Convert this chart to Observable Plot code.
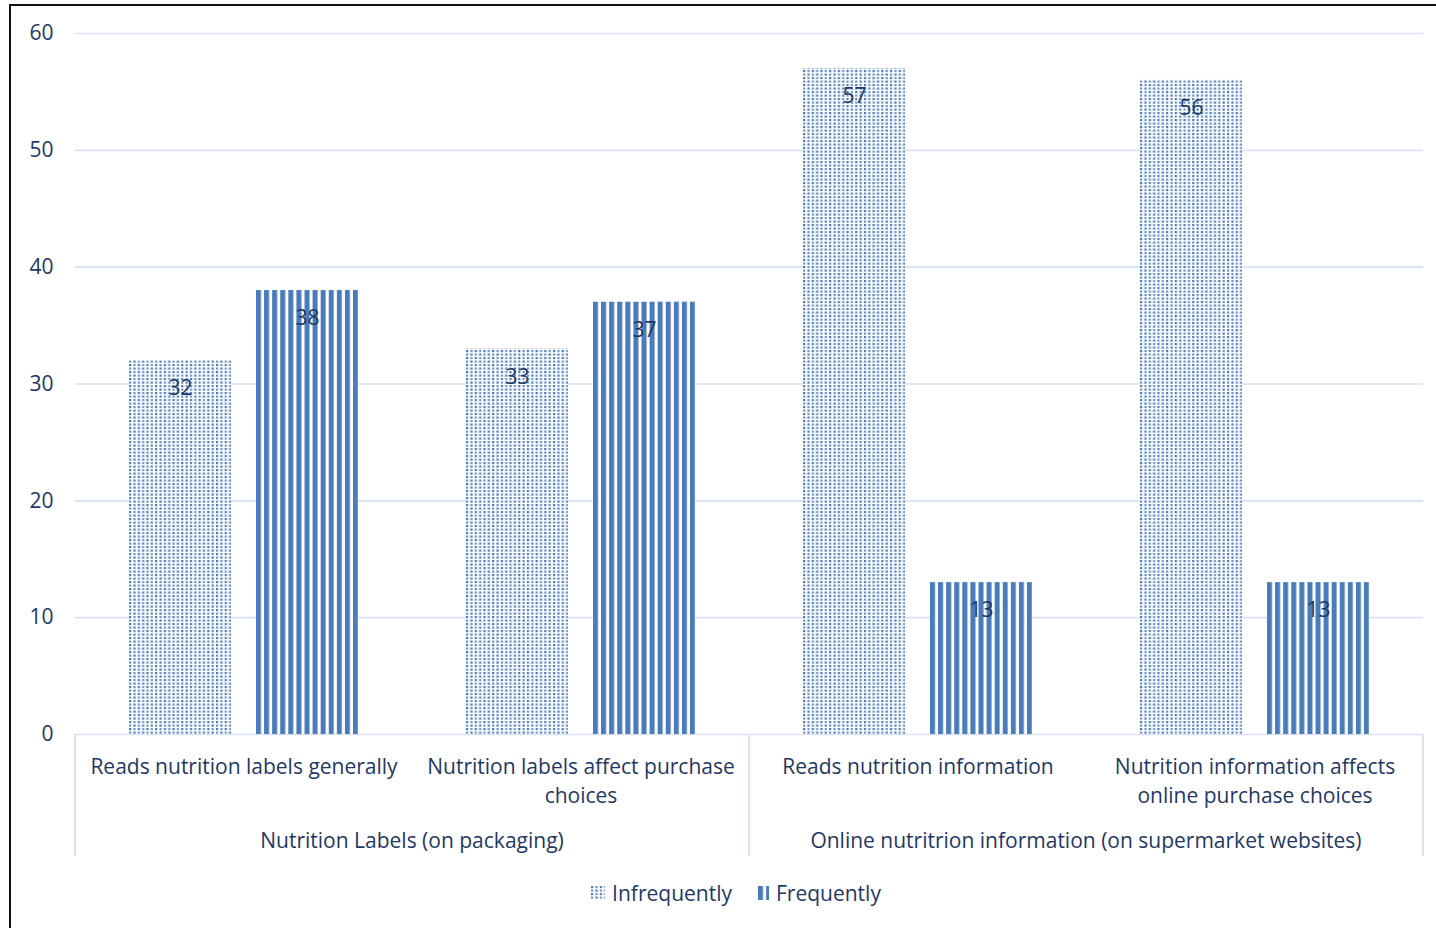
<!DOCTYPE html>
<html>
<head>
<meta charset="utf-8">
<script src="https://cdn.jsdelivr.net/npm/d3@7"></script>
<script src="https://cdn.jsdelivr.net/npm/@observablehq/plot@0.6"></script>
<style>
  html, body { margin: 0; padding: 0; background: #fff; }
  body { width: 1436px; height: 928px; overflow: hidden; position: relative; font-family: "Open Sans", "Noto Sans", sans-serif; }
  #frame { position: absolute; left: 9px; top: 4px; width: 1440px; height: 940px; border-left: 2px solid #111; border-top: 2px solid #111; box-sizing: border-box; }
  #chart { position: absolute; left: 0; top: 0; }
  #legend { position: absolute; left: 0; top: 880px; width: 1436px; height: 26px; padding-left: 36px; box-sizing: border-box;
            display: flex; justify-content: center; align-items: center; gap: 26px; font-size: 21px; color: #1f3864; }
  #legend .item { display: flex; align-items: center; gap: 7px; }
  #legend svg { display: block; }
</style>
</head>
<body>
<div id="frame"></div>
<div id="chart"></div>
<div id="legend"></div>
<script>
// Survey results: how often shoppers use nutrition information
const groups = [
  "Nutrition Labels (on packaging)",
  "Online nutritrion information (on supermarket websites)"
];
const categories = [
  "Reads nutrition labels generally",
  "Nutrition labels affect purchase choices",
  "Reads nutrition information",
  "Nutrition information affects online purchase choices"
];
const categoryGroup = [0, 0, 1, 1];
const tickLabels = [
  "Reads nutrition labels generally",
  "Nutrition labels affect purchase\nchoices",
  "Reads nutrition information",
  "Nutrition information affects\nonline purchase choices"
];
const series = ["Infrequently", "Frequently"];
const infrequently = [32, 33, 57, 56];
const frequently = [38, 37, 13, 13];
const yTicks = [0, 10, 20, 30, 40, 50, 60];

const textColor = "#1f3864";
const barBlue = "#4a7bbb";
const barBlueLight = "#6d95c9";
const gridColor = "#d9e2f3";
const font = "'Open Sans', 'Noto Sans', sans-serif";

const rows = categories.flatMap((category, i) => [
  {category, series: "Infrequently", value: infrequently[i]},
  {category, series: "Frequently", value: frequently[i]}
]);

const chart = Plot.plot({
  width: 1436,
  height: 870,
  marginLeft: 73,
  marginRight: 12,
  marginTop: 33,
  marginBottom: 136,
  style: {fontFamily: font, fontSize: "21px", color: textColor, background: "transparent"},
  fx: {domain: categories, padding: 0, label: null},
  x: {domain: series, paddingInner: 0.195, paddingOuter: 0.417, axis: null},
  y: {domain: [0, 60], axis: null},
  color: {domain: series, range: ["url(#dots)", "url(#stripes)"]},
  marks: [
    Plot.gridY(yTicks, {stroke: gridColor, strokeOpacity: 1, strokeWidth: 1.6}),
    Plot.axisY(yTicks, {tickSize: 0, tickPadding: 22, fontSize: 21, fill: textColor, label: null}),
    Plot.barY(rows, {fx: "category", x: "series", y: "value", fill: "series"}),
    Plot.text(rows, {fx: "category", x: "series", y: "value", text: d => String(d.value), dy: 28, fill: textColor, fontSize: 21}),
    Plot.axisFx({
      anchor: "bottom", tickSize: 0, tickPadding: 19, label: null,
      tickFormat: c => tickLabels[categories.indexOf(c)],
      lineHeight: 1.38, fontSize: 21, fill: textColor
    })
  ]
});

// Fill patterns for the two series, aligned to each bar's left edge
function addPatterns(defs, prefix, dotsX, stripesX, bw) {
  const dotStep = (bw - 2) / 23;
  const dots = defs.append("pattern").attr("id", prefix + "dots").attr("patternUnits", "userSpaceOnUse")
    .attr("x", dotsX).attr("y", 0)
    .attr("width", 2 * dotStep).attr("height", 7);
  dots.append("rect").attr("width", 2 * dotStep).attr("height", 7).attr("fill", "#fff");
  [[0, 0, barBlue], [dotStep, 0, barBlueLight], [0, 3.5, barBlueLight], [dotStep, 3.5, barBlue]].forEach(([x, y, c]) =>
    dots.append("rect").attr("x", x).attr("y", y).attr("width", 2.2).attr("height", 2.2).attr("fill", c));

  const stripeW = 5;
  const stripeStep = (bw - stripeW) / 12;
  const stripes = defs.append("pattern").attr("id", prefix + "stripes").attr("patternUnits", "userSpaceOnUse")
    .attr("x", stripesX).attr("y", 0)
    .attr("width", stripeStep).attr("height", 8);
  stripes.append("rect").attr("width", stripeStep).attr("height", 8).attr("fill", "#fff");
  stripes.append("rect").attr("width", stripeW).attr("height", 8).attr("fill", barBlue);
}

const svg = d3.select(chart);
const xs = chart.scale("x");
addPatterns(svg.insert("defs", ":first-child"), "", xs.apply("Infrequently"), xs.apply("Frequently"), xs.bandwidth);

// Second level of the category axis: group separators and group names
const fx = chart.scale("fx");
const y = chart.scale("y");
const base = y.apply(0);
const axisBottom = 856;
const layer = svg.append("g");
const edges = new Set();
groups.forEach((name, gi) => {
  const cats = categories.filter((c, i) => categoryGroup[i] === gi);
  const x0 = fx.apply(cats[0]);
  const x1 = fx.apply(cats[cats.length - 1]) + fx.bandwidth;
  edges.add(x0); edges.add(x1);
  layer.append("text")
    .attr("x", (x0 + x1) / 2).attr("y", 841).attr("dy", "0.35em")
    .attr("text-anchor", "middle").attr("fill", textColor)
    .attr("font-size", 21).text(name);
});
for (const x of edges) {
  layer.append("line").attr("x1", x).attr("x2", x).attr("y1", base).attr("y2", axisBottom)
    .attr("stroke", gridColor).attr("stroke-width", 2);
}

document.getElementById("chart").append(chart);

// Legend with small pattern swatches
const legend = d3.select("#legend");
series.forEach((s, i) => {
  const item = legend.append("div").attr("class", "item");
  const w = i === 0 ? 14 : 11;
  const sw = item.append("svg").attr("width", w).attr("height", 14);
  addPatterns(sw.append("defs"), "legend-" + i + "-", 0, 0, 103);
  sw.append("rect").attr("width", w).attr("height", 14)
    .attr("fill", i === 0 ? `url(#legend-${i}-dots)` : `url(#legend-${i}-stripes)`);
  item.append("span").text(s);
});
</script>
</body>
</html>
